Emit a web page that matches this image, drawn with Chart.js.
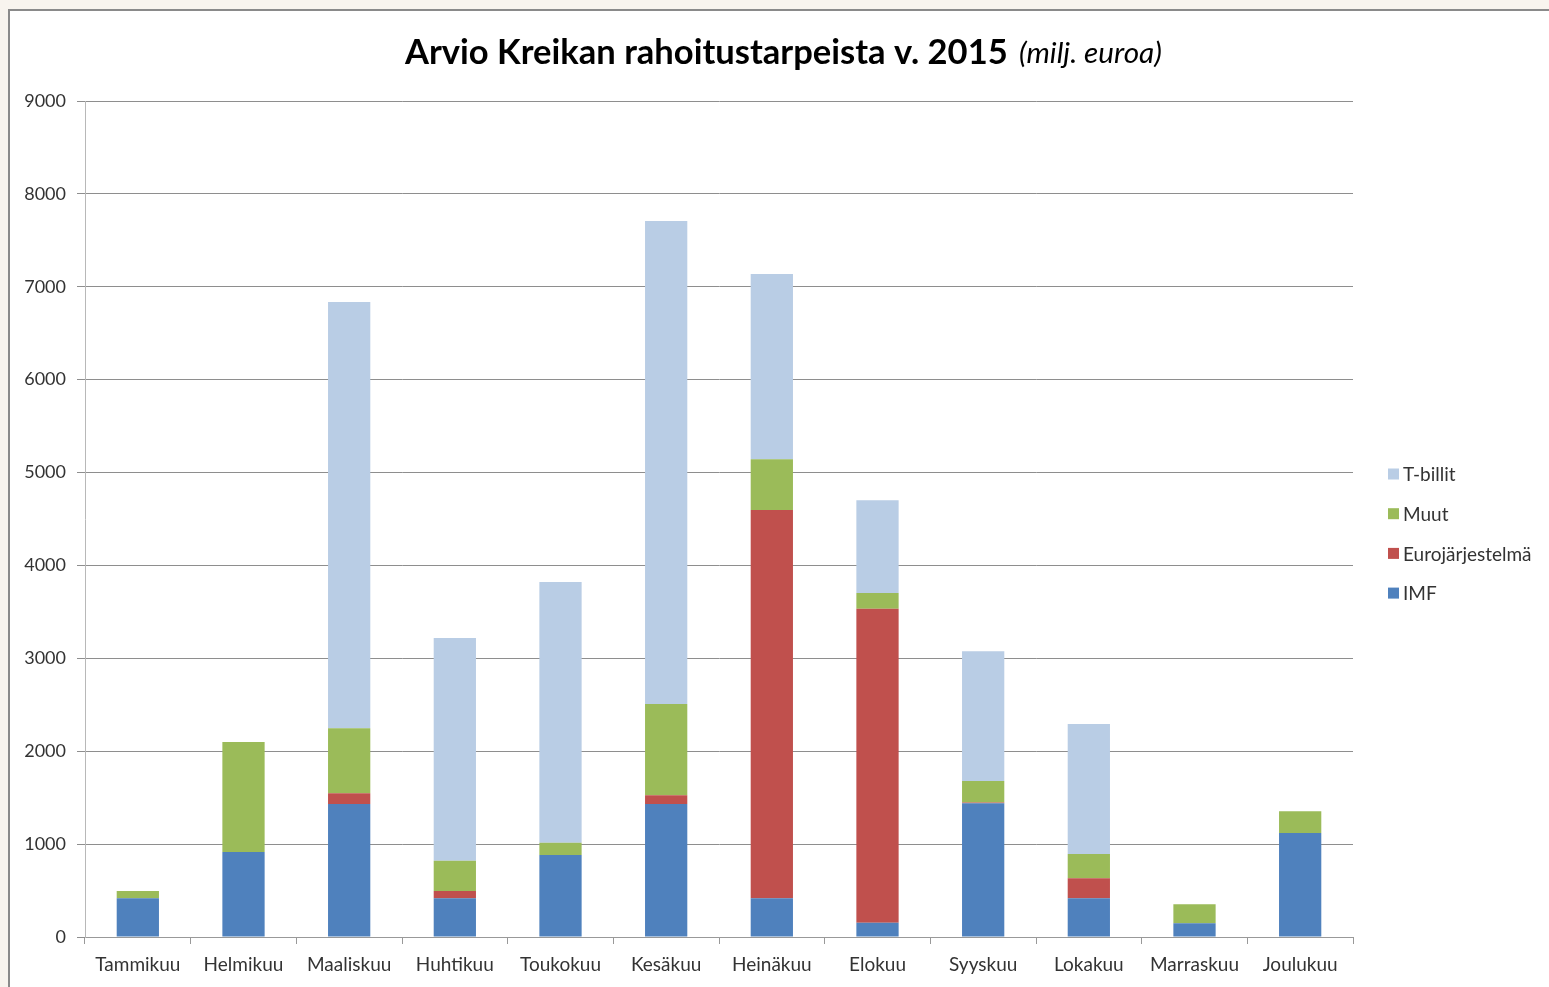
<!DOCTYPE html>
<html><head><meta charset="utf-8">
<script src="https://cdn.jsdelivr.net/npm/chart.js@4.4.1/dist/chart.umd.min.js"></script>
<style>
html,body{margin:0;padding:0;background:#f8f4ee;width:1549px;height:987px;overflow:hidden;}
#frame{position:absolute;left:8px;top:9px;width:1700px;height:1200px;border:2px solid #8a8a8a;background:#fff;}
#c{position:absolute;left:0;top:0;}
</style></head><body>
<div id="frame"></div>
<canvas id="c" width="1549" height="987"></canvas>
<script>
const months = ['Tammikuu','Helmikuu','Maaliskuu','Huhtikuu','Toukokuu','Kesäkuu','Heinäkuu','Elokuu','Syyskuu','Lokakuu','Marraskuu','Joulukuu'];
const imf     = [417, 915, 1432, 417, 883, 1432, 417, 154, 1439, 417, 147, 1120];
const euro    = [0, 0, 115, 78, 0, 93, 4180, 3381, 10, 215, 0, 0];
const muut    = [78, 1184, 700, 326, 132, 983, 545, 168, 230, 262, 205, 233];
const tbillit = [0, 0, 4589, 2398, 2807, 5200, 1995, 998, 1396, 1399, 0, 0];
const seriesNames = ['IMF','Eurojärjestelmä','Muut','T-billit'];
const yTicks = [0,1000,2000,3000,4000,5000,6000,7000,8000,9000];
const titleMain = 'Arvio Kreikan rahoitustarpeista v. 2015';
const titleSub = '(milj. euroa)';

const colors = ['#4f81bd','#c0504d','#9bbb59','#b9cde5'];
const FONT = 'Lato';

const deco = {
  id: 'deco',
  afterDraw(chart) {
    const ctx = chart.ctx;
    const area = chart.chartArea;
    ctx.save();
    // title
    ctx.fillStyle = '#000';
    ctx.textBaseline = 'alphabetic';
    ctx.textAlign = 'left';
    ctx.font = 'bold 30px ' + FONT;
    const s1 = 30 * 603 / ctx.measureText(titleMain).width;
    ctx.font = 'italic 22px ' + FONT;
    const s2 = 22 * 143 / ctx.measureText(titleSub).width;
    ctx.font = 'bold ' + s1 + 'px ' + FONT;
    ctx.fillText(titleMain, 405, 64);
    ctx.font = 'italic ' + s2 + 'px ' + FONT;
    ctx.fillText(titleSub, 1019, 63);
    // legend (reversed order)
    const ds = chart.data.datasets.slice().reverse();
    ctx.font = '19px ' + FONT;
    ctx.textBaseline = 'middle';
    ds.forEach((d, i) => {
      const yc = 474 + i * 39.7;
      const xb = area.right + 35;
      ctx.fillStyle = d.backgroundColor;
      ctx.fillRect(xb, yc - 5.5, 11, 11);
      ctx.fillStyle = '#333';
      ctx.fillText(d.label, xb + 15, yc + 1);
    });
    ctx.restore();
  }
};

const dataArrays = [imf, euro, muut, tbillit];
new Chart(document.getElementById('c'), {
  type: 'bar',
  data: {
    labels: months,
    datasets: dataArrays.map((arr, i) => ({
      label: seriesNames[i],
      data: arr,
      backgroundColor: colors[i],
      borderWidth: 0,
      categoryPercentage: 1.0,
      barPercentage: 0.4
    }))
  },
  options: {
    responsive: false,
    animation: false,
    layout: { padding: { top: 101, right: 196, bottom: 0, left: 0 } },
    plugins: { legend: { display: false }, title: { display: false }, tooltip: { enabled: false } },
    scales: {
      x: {
        stacked: true,
        grid: { drawOnChartArea: false, offset: true, tickLength: 7, color: '#999' },
        border: { color: '#999' },
        ticks: { font: { family: FONT, size: 19 }, color: '#333', padding: 9, maxRotation: 0 },
        afterFit(s) { s.height = 50; }
      },
      y: {
        stacked: true,
        min: 0, max: 9000,
        afterBuildTicks(s) { s.ticks = yTicks.map(v => ({ value: v })); },
        grid: { color: '#8e8e8e', tickLength: 8 },
        border: { color: '#b8b8b8' },
        ticks: { font: { family: FONT, size: 18 }, color: '#333', padding: 11, callback: v => String(v) },
        afterFit(s) { s.width = 85; }
      }
    }
  },
  plugins: [deco]
});
</script>
</body></html>
